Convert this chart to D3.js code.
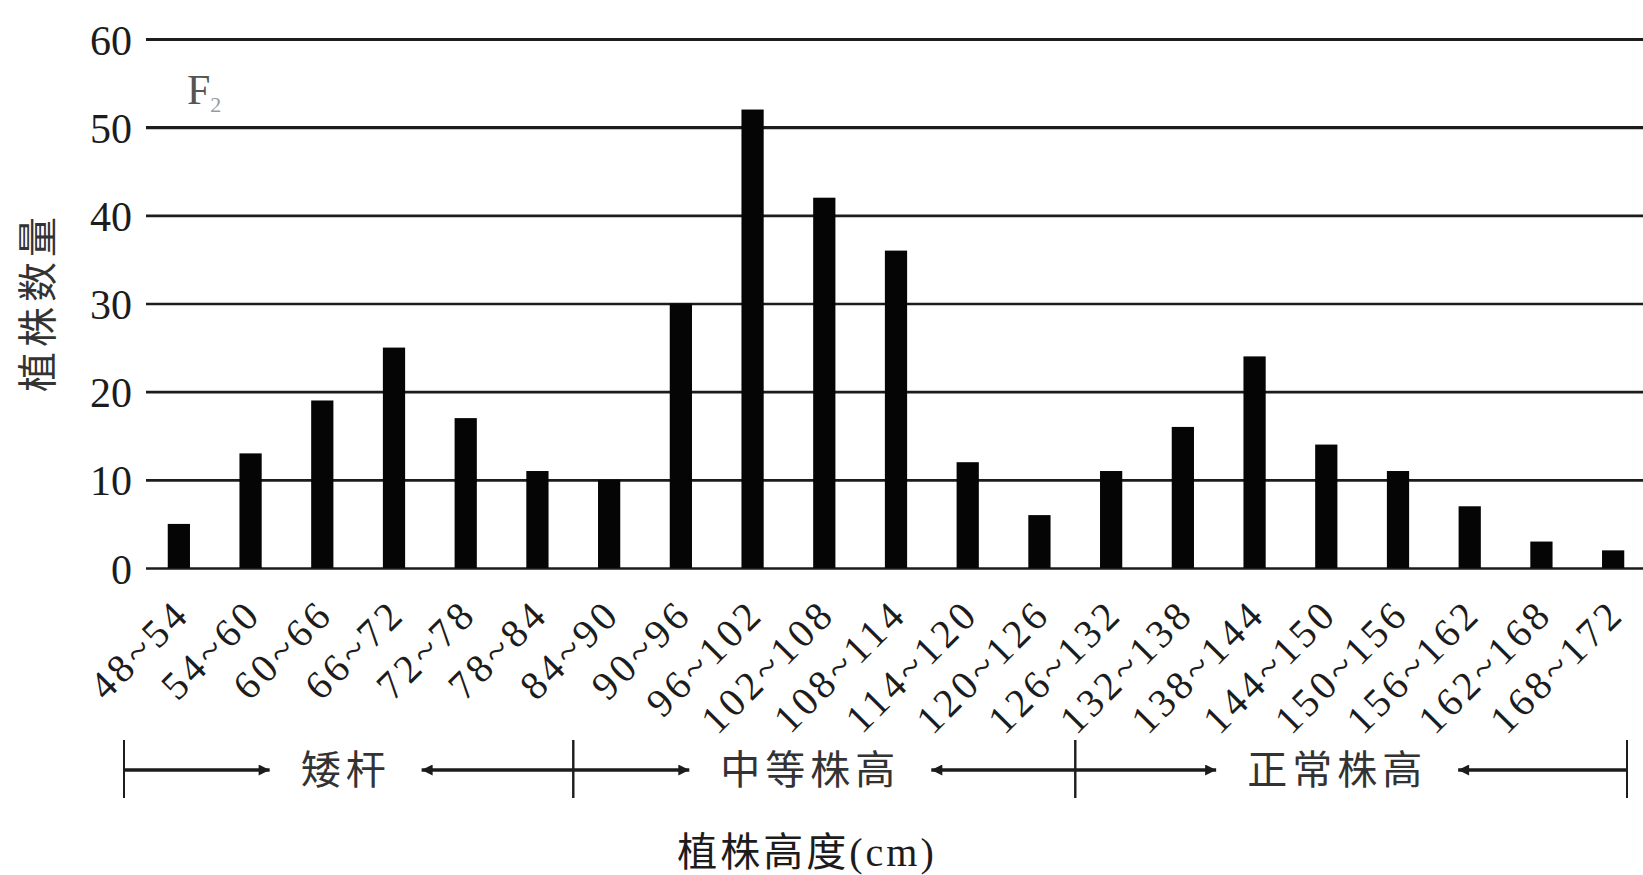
<!DOCTYPE html>
<html>
<head>
<meta charset="utf-8">
<script src="https://cdn.jsdelivr.net/npm/d3@7"></script>
<style>
  html, body { margin: 0; padding: 0; background: #fff; }
  svg { display: block; }
</style>
</head>
<body>
<div id="chart"></div>
<script>
let width = 1643;
let height = 875;

// 横轴：植株高度分组(cm)
let categories = ["48~54", "54~60", "60~66", "66~72", "72~78", "78~84", "84~90",
                  "90~96", "96~102", "102~108", "108~114", "114~120", "120~126",
                  "126~132", "132~138", "138~144", "144~150", "150~156", "156~162",
                  "162~168", "168~172"];
// 纵轴：每组植株数量
let counts = [5, 13, 19, 25, 17, 11, 10, 30, 52, 42, 36, 12, 6, 11, 16, 24, 14, 11, 7, 3, 2];
let yTicks = [0, 10, 20, 30, 40, 50, 60];

// 株高类型：名称、起始组、结束组
let groupNames = ["矮杆", "中等株高", "正常株高"];
let groupStarts = ["48~54", "84~90", "126~132"];
let groupEnds = ["78~84", "120~126", "168~172"];

let fontFamily = "'Liberation Serif', 'Times New Roman', 'Noto Sans CJK SC', serif";
let TickSize = 42;
let CaptionSize = 40;
let ink = "#1c1c1c";

let plotLeft = 146;
let zeroY = 568;
let topY = 39;

function draw_chart() {
    let svg = d3.select("#chart").append("svg")
                .attr("width", width)
                .attr("height", height)
                .style("background", "#fff");

    // 比例尺
    let xScale = d3.scaleBand()
                   .domain(categories)
                   .range([143, 1649])
                   .paddingInner(0.69)
                   .paddingOuter(0.345);

    let yScale = d3.scaleLinear()
                   .domain([0, 60])
                   .range([zeroY, topY]);

    // 纵轴 + 横向网格线
    let yAxis = d3.axisLeft(yScale)
                  .tickValues(yTicks)
                  .tickSize(-(width - plotLeft))
                  .tickPadding(14);

    let gy = svg.append("g")
                .attr("transform", "translate(" + plotLeft + ",0)")
                .call(yAxis);
    gy.select(".domain").remove();
    gy.selectAll(".tick line")
      .attr("stroke", ink)
      .attr("stroke-width", d => d >= 50 ? 3.2 : 2.6);
    gy.selectAll(".tick text")
      .attr("font-family", fontFamily)
      .attr("font-size", TickSize)
      .attr("fill", ink)
      .attr("dy", "0.36em");

    // 柱子
    svg.append("g")
       .selectAll("rect")
       .data(counts)
       .enter().append("rect")
       .attr("x", (d, i) => xScale(categories[i]))
       .attr("y", d => yScale(d))
       .attr("width", xScale.bandwidth())
       .attr("height", d => zeroY - yScale(d))
       .attr("fill", "#050505");

    // 横轴刻度标签（斜45度）
    let gx = svg.append("g")
                .attr("transform", "translate(0," + zeroY + ")")
                .call(d3.axisBottom(xScale).tickSize(0));
    gx.select(".domain").remove();
    gx.selectAll(".tick text")
      .attr("font-family", fontFamily)
      .attr("font-size", CaptionSize)
      .attr("letter-spacing", 4)
      .attr("fill", ink)
      .attr("y", 0)
      .attr("dy", 0)
      .attr("transform", "translate(13,48) rotate(-45)")
      .style("text-anchor", "end");

    // F2 标记
    let f2 = svg.append("text")
                .attr("x", 187)
                .attr("y", 104)
                .attr("font-family", fontFamily)
                .attr("font-size", TickSize)
                .attr("fill", "#555");
    f2.append("tspan").text("F");
    f2.append("tspan")
      .attr("font-size", 22)
      .attr("dy", 8)
      .attr("fill", "#999")
      .text("2");

    // 纵轴标题
    svg.append("text")
       .attr("transform", "translate(38,302) rotate(-90)")
       .attr("text-anchor", "middle")
       .attr("dominant-baseline", "central")
       .attr("font-family", fontFamily)
       .attr("font-size", CaptionSize)
       .attr("letter-spacing", 5)
       .attr("fill", "#333")
       .text("植株数量");

    // 横轴标题
    svg.append("text")
       .attr("x", 807)
       .attr("y", 866)
       .attr("text-anchor", "middle")
       .attr("font-family", fontFamily)
       .attr("font-size", CaptionSize)
       .attr("letter-spacing", 3)
       .attr("fill", ink)
       .text("植株高度(cm)");

    draw_groups(svg, xScale);
}

function draw_groups(svg, xScale) {
    let step = xScale.step();
    let gap = (step - xScale.bandwidth()) / 2;
    let rowY = 770;

    // 箭头
    svg.append("defs").append("marker")
       .attr("id", "arrow")
       .attr("viewBox", "0 0 10 10")
       .attr("refX", 10)
       .attr("refY", 5)
       .attr("markerUnits", "userSpaceOnUse")
       .attr("markerWidth", 16)
       .attr("markerHeight", 11)
       .attr("orient", "auto")
       .append("path")
       .attr("d", "M0,0 L10,5 L0,10 z")
       .attr("fill", ink);

    groupNames.forEach(function(name, i) {
        let left = xScale(groupStarts[i]) - gap;
        let right = xScale(groupEnds[i]) + xScale.bandwidth() + gap;
        if (i == 0) left -= 19;
        if (i == groupNames.length - 1) right = Math.min(right, width - 16);

        // 分界竖线
        [left, right].forEach(function(x) {
            svg.append("line")
               .attr("x1", x).attr("x2", x)
               .attr("y1", rowY - 30).attr("y2", rowY + 28)
               .attr("stroke", ink)
               .attr("stroke-width", 2);
        });

        // 文字略偏左，与原图一致
        let cx = (left + right) / 2 - (i == 0 ? 3 : 14);
        let label = svg.append("text")
                       .attr("x", cx)
                       .attr("y", rowY)
                       .attr("text-anchor", "middle")
                       .attr("dominant-baseline", "central")
                       .attr("font-family", fontFamily)
                       .attr("font-size", CaptionSize)
                       .attr("letter-spacing", 5)
                       .attr("fill", "#333")
                       .text(name);
        let w = label.node().getComputedTextLength();

        svg.append("line")
           .attr("x1", left).attr("x2", cx - w / 2 - 31)
           .attr("y1", rowY).attr("y2", rowY)
           .attr("stroke", ink)
           .attr("stroke-width", 3.6)
           .attr("marker-end", "url(#arrow)");

        svg.append("line")
           .attr("x1", right).attr("x2", cx + w / 2 + 31)
           .attr("y1", rowY).attr("y2", rowY)
           .attr("stroke", ink)
           .attr("stroke-width", 3.6)
           .attr("marker-end", "url(#arrow)");
    });
}

function main() {
    draw_chart();
}

main();
</script>
</body>
</html>
